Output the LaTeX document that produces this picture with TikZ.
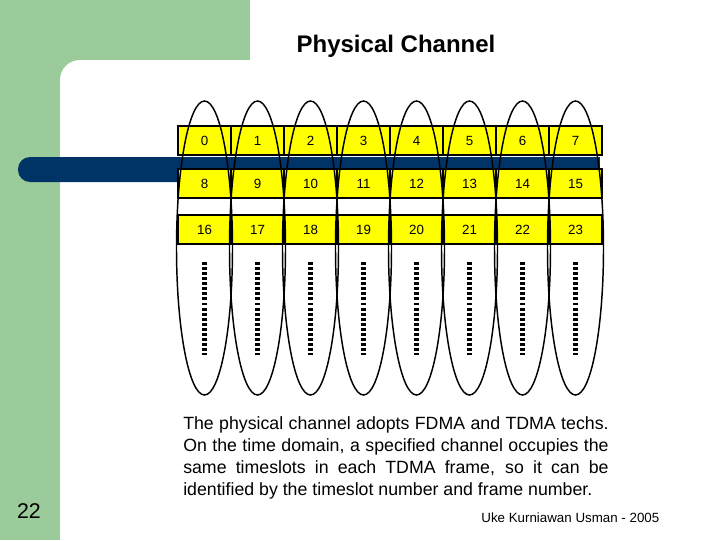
\documentclass[tikz,border=0pt]{standalone}
\usepackage{fontspec}
\setmainfont{Liberation Sans}
\usetikzlibrary{positioning}
\definecolor{slideGreen}{RGB}{155,203,155}
\definecolor{barBlue}{RGB}{0,51,102}
\definecolor{slotYellow}{RGB}{255,255,0}
\tikzset{slot/.style={draw,thick,fill=slotYellow,minimum width=39.75pt,minimum height=21.75pt,inner sep=0pt,font=\fontsize{10}{12}\selectfont},
  chan/.style={line width=1.1pt,draw=black}}
\begin{document}
\begin{tikzpicture}[x=0.75pt,y=-0.75pt]
\useasboundingbox (0,0) rectangle (720,540);
\fill[slideGreen] (0,0) rectangle (250,100);
\fill[slideGreen] (0,0) rectangle (60,540);
\fill[white,rounded corners=15pt] (60,60) rectangle (760,580);
\node[font=\bfseries\fontsize{18}{20}\selectfont] (title) at (396,46) {Physical Channel};
\fill[barBlue,rounded corners=9pt] (18,157) rectangle (600,182);
\fill[barBlue] (300,157) rectangle (600,182);
% time slots
\foreach \i in {0,...,7}{
  \pgfmathsetmacro{\cx}{204.5+53*\i}
  \node[slot] (a\i) at (\cx,140.5) {\i};
  \pgfmathtruncatemacro{\b}{\i+8}
  \node[slot] (b\i) at (\cx,183.5) {\b};
  \pgfmathtruncatemacro{\c}{\i+16}
  \node[slot] (c\i) at (\cx,229.5) {\c};
}
\fill[barBlue] (178,157) rectangle (600,168);
% channels
\foreach \i in {0,...,7}{
  \pgfmathsetmacro{\cx}{204.5+53*\i}
  \draw[chan] (\cx,248) ellipse (28 and 147);
  \draw[line width=3.5pt,dash pattern=on 2.2pt off 1.6pt] (\cx,262) -- (\cx,355);
}
\node[text width=319pt,align=justify,font=\fontsize{13.3}{16.5}\selectfont,anchor=north west,inner sep=0pt] (desc) at (183,416)
 {The physical channel adopts FDMA and TDMA techs.\linebreak On the time domain, a specified channel occupies the\linebreak same timeslots in each TDMA frame, so it can be\linebreak identified by the timeslot number and frame number.};
\node[font=\fontsize{16}{18}\selectfont] (page) at (29,511) {22};
\node[font=\fontsize{10}{12}\selectfont,anchor=east] (author) at (664,518) {Uke Kurniawan Usman - 2005};
\end{tikzpicture}
\end{document}
